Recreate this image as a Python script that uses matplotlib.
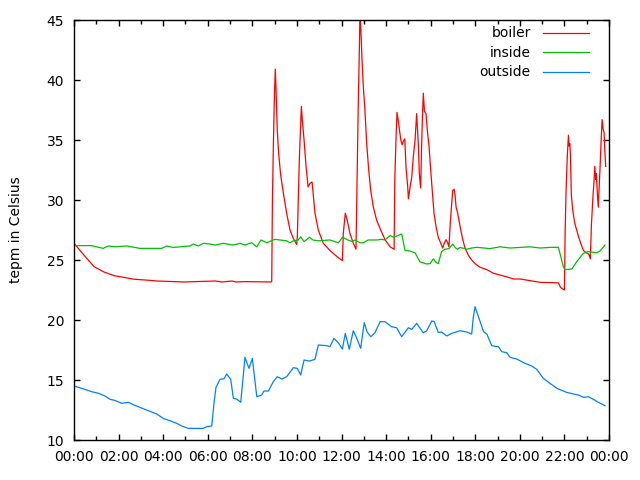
import matplotlib
matplotlib.use('Agg')
import matplotlib.pyplot as plt
from matplotlib.ticker import MultipleLocator

# hours since midnight, temperature in Celsius
boiler_h = [0.00, 0.45, 0.90, 1.35, 1.79, 2.24, 2.69, 3.44, 3.72, 4.93, 6.33, 6.64, 7.09, 7.27, 7.67, 8.84,
            8.87, 8.90, 8.94, 8.99, 9.03, 9.06, 9.12, 9.18, 9.27, 9.39, 9.54, 9.69, 9.84, 9.99,
            10.02, 10.11, 10.20, 10.24, 10.32, 10.41, 10.50, 10.59, 10.68, 10.74, 10.81, 10.96, 11.18, 11.48, 11.79, 12.04,
            12.08, 12.17, 12.26, 12.38, 12.53, 12.65, 12.71, 12.75, 12.80, 12.83, 12.88, 12.92, 12.98,
            13.05, 13.13, 13.22, 13.31, 13.43, 13.58, 13.76, 13.95, 14.18, 14.36,
            14.39, 14.45, 14.49, 14.54, 14.66, 14.72, 14.77, 14.84, 14.89, 14.97, 15.00, 15.07, 15.15, 15.22, 15.30,
            15.37, 15.45, 15.49, 15.55, 15.60, 15.64, 15.67, 15.72, 15.79, 15.85, 15.93, 16.00, 16.08, 16.15,
            16.24, 16.34, 16.45, 16.54, 16.61, 16.69, 16.77, 16.82, 16.87, 16.93, 16.99, 17.05, 17.09, 17.14,
            17.20, 17.27, 17.35, 17.44, 17.54, 17.69, 17.84, 17.99, 18.21, 18.52, 18.81, 19.11, 19.41, 19.71,
            20.01, 20.46, 20.91, 21.73, 21.83, 22.00, 22.03, 22.07, 22.13, 22.18, 22.21, 22.24, 22.27, 22.31,
            22.37, 22.46, 22.55, 22.64, 22.73, 22.85, 22.97, 23.09, 23.16, 23.21, 23.27, 23.33, 23.36, 23.41,
            23.43, 23.48, 23.52, 23.55, 23.60, 23.64, 23.69, 23.73, 23.78, 23.81, 23.85]
boiler = [26.4, 25.4, 24.45, 24.0, 23.7, 23.55, 23.4, 23.3, 23.25, 23.17, 23.25, 23.17, 23.25, 23.17, 23.2, 23.17,
          23.2, 29.8, 34.25, 38.7, 40.9, 39.4, 35.8, 33.9, 32.1, 30.6, 28.9, 27.5, 26.8, 26.3,
          27.0, 33.5, 37.8, 36.7, 35.0, 32.8, 31.1, 31.4, 31.5, 30.3, 28.9, 27.5, 26.4, 25.8, 25.3, 24.95,
          27.2, 28.9, 28.3, 27.2, 26.4, 25.9, 33.1, 37.8, 42.5, 46.0, 43.6, 41.7, 39.4,
          37.5, 34.7, 32.5, 30.8, 29.4, 28.3, 27.5, 26.7, 26.1, 25.9,
          31.7, 35.4, 37.3, 36.7, 35.0, 34.6, 34.9, 35.1, 32.8, 31.1, 30.1, 31.0, 31.9, 33.6, 35.0,
          37.2, 34.5, 32.2, 31.0, 35.0, 37.5, 38.9, 37.4, 37.2, 35.8, 34.4, 32.5, 30.6, 28.9,
          27.8, 26.9, 26.4, 26.0, 26.4, 26.7, 26.4, 26.1, 27.8, 29.4, 30.8, 30.9, 30.5, 29.4,
          29.0, 28.3, 27.5, 26.7, 26.0, 25.4, 25.0, 24.7, 24.4, 24.2, 23.9, 23.75, 23.6, 23.42,
          23.42, 23.28, 23.14, 23.1, 22.7, 22.5, 27.2, 30.6, 33.75, 35.4, 34.5, 34.7, 33.75, 30.4,
          29.2, 28.1, 27.5, 26.9, 26.4, 25.8, 25.6, 25.5, 25.1, 27.9, 30.0, 31.7, 32.8, 31.7,
          32.2, 30.4, 29.4, 30.8, 32.8, 34.7, 36.7, 36.0, 35.6, 34.2, 32.8]

inside_h = [0.0, 0.79, 1.31, 1.54, 1.84, 2.36, 2.96, 3.93, 4.16, 4.45, 5.2, 5.35, 5.58, 5.8, 6.1, 6.33, 6.7,
            7.15, 7.45, 7.67, 7.97, 8.2, 8.39, 8.65, 8.94, 9.02, 9.54, 9.69, 9.84, 10.06, 10.17, 10.32,
            10.56, 10.72, 10.96, 11.48, 11.86, 12.05, 12.29, 12.46, 12.61, 12.83, 12.98, 13.2, 13.58, 13.8,
            13.95, 14.18, 14.32, 14.48, 14.66, 14.7, 14.85, 15.07, 15.3, 15.52, 15.82, 15.97, 16.12, 16.24,
            16.34, 16.49, 16.64, 16.82, 16.99, 17.09, 17.2, 17.32, 17.62, 17.84, 18.07, 18.66, 19.11, 19.56,
            20.01, 20.46, 20.91, 21.35, 21.73, 21.95, 22.03, 22.33, 22.55, 22.85, 23.07, 23.45, 23.6, 23.82]
inside = [26.2, 26.2, 25.97, 26.17, 26.1, 26.17, 25.97, 25.97, 26.17, 26.05, 26.17, 26.33, 26.17, 26.39, 26.33,
          26.25, 26.39, 26.25, 26.39, 26.25, 26.44, 26.1, 26.67, 26.44, 26.67, 26.72, 26.6, 26.44, 26.6, 26.67,
          26.94, 26.53, 26.9, 26.67, 26.6, 26.67, 26.44, 26.9, 26.67, 26.55, 26.67, 26.44, 26.44, 26.67, 26.67,
          26.72, 26.67, 27.05, 26.9, 27.0, 27.14, 27.17, 25.8, 25.75, 25.6, 24.85, 24.67, 24.7, 25.1, 24.8,
          24.7, 25.7, 25.9, 25.95, 26.33, 26.05, 25.9, 26.05, 25.9, 26.0, 26.06, 25.95, 26.1, 26.0,
          26.05, 26.1, 26.0, 26.05, 26.06, 24.44, 24.2, 24.25, 24.86, 25.56, 25.7, 25.6, 25.75, 26.25]

outside_h = [0.0, 0.27, 0.49, 0.79, 1.09, 1.39, 1.62, 1.84, 2.14, 2.44, 2.66, 2.88, 3.26, 3.71, 4.01, 4.31,
             4.61, 4.83, 5.13, 5.8, 5.95, 6.18, 6.28, 6.37, 6.55, 6.73, 6.85, 7.03, 7.15, 7.31, 7.48, 7.57,
             7.67, 7.85, 8.0, 8.2, 8.42, 8.52, 8.72, 8.94, 9.12, 9.32, 9.54, 9.84, 10.02, 10.17, 10.32, 10.56,
             10.81, 10.96, 11.34, 11.48, 11.66, 11.86, 12.04, 12.17, 12.35, 12.53, 12.68, 12.86, 13.02, 13.15,
             13.32, 13.5, 13.73, 13.95, 14.25, 14.47, 14.7, 15.0, 15.15, 15.37, 15.67, 15.82, 16.05, 16.16,
             16.34, 16.49, 16.72, 16.95, 17.32, 17.62, 17.84, 17.91, 17.99, 18.14, 18.37, 18.52, 18.74, 19.04,
             19.19, 19.41, 19.56, 19.86, 20.23, 20.53, 20.76, 21.05, 21.35, 21.66, 22.1, 22.62, 22.85, 23.07,
             23.3, 23.52, 23.82]
outside = [14.5, 14.35, 14.22, 14.03, 13.9, 13.67, 13.39, 13.3, 13.06, 13.14, 12.95, 12.78, 12.5, 12.17, 11.8,
           11.6, 11.39, 11.17, 10.97, 10.97, 11.11, 11.17, 13.06, 14.39, 15.06, 15.1, 15.5, 15.06, 13.47, 13.4,
           13.14, 14.9, 16.89, 15.97, 16.8, 13.61, 13.75, 14.08, 14.08, 14.86, 15.28, 15.08, 15.28, 16.03,
           15.97, 15.42, 16.67, 16.58, 16.72, 17.92, 17.86, 17.78, 18.47, 18.1, 17.58, 18.89, 17.56, 19.11,
           18.5, 17.64, 19.78, 19.0, 18.61, 18.94, 19.86, 19.86, 19.44, 19.36, 18.61, 19.36, 19.22, 19.72,
           18.94, 19.1, 19.92, 19.86, 18.97, 19.0, 18.67, 18.89, 19.11, 19.0, 18.83, 20.2, 21.11, 20.3,
           19.03, 18.83, 17.86, 17.78, 17.36, 17.28, 16.89, 16.75, 16.39, 16.17, 15.89, 15.14, 14.72, 14.31,
           13.97, 13.75, 13.56, 13.61, 13.39, 13.14, 12.86]

plt.rcParams['font.family'] = ['DejaVu Sans']
fig = plt.figure(figsize=(6.4, 4.8), dpi=100)
ax = fig.add_axes([0.1156, 0.0833, 0.836, 0.875])

ax.plot(boiler_h, boiler, color='#ff0000', lw=0.9, label='boiler')
ax.plot(inside_h, inside, color='#00c000', lw=0.9, label='inside')
ax.plot(outside_h, outside, color='#0080ff', lw=0.9, label='outside')

ax.set_xlim(0, 24)
ax.set_ylim(10, 45)
xt = list(range(0, 25, 2))
ax.set_xticks(xt)
ax.set_xticklabels(['%02d:00' % (h % 24) for h in xt])
ax.xaxis.set_minor_locator(MultipleLocator(1))
ax.yaxis.set_major_locator(MultipleLocator(5))
ax.tick_params(which='both', direction='in', top=True, right=True, labelsize=10, width=1)
ax.tick_params(which='major', length=4.5, pad=7)
ax.tick_params(which='minor', length=3)
for s in ax.spines.values():
    s.set_linewidth(1)

ax.set_ylabel('tepm in Celsius', fontsize=10, labelpad=17)
ax.legend(loc='upper right', bbox_to_anchor=(0.981, 1.008), frameon=False, markerfirst=False, fontsize=10,
          handlelength=3.3, labelspacing=0.4, borderaxespad=0.3, handletextpad=0.9)

fig.savefig('out.png', dpi=100)
